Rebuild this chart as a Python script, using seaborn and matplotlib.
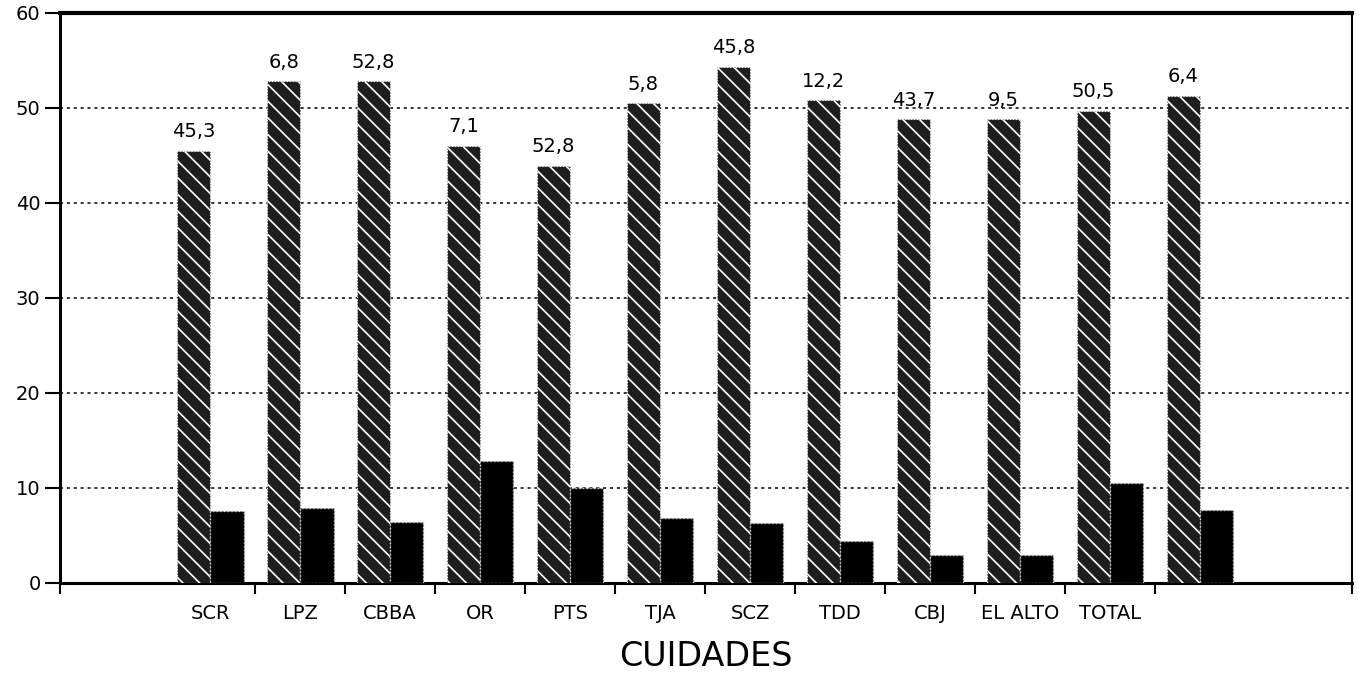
import numpy as np
import pandas as pd
import seaborn as sns
import matplotlib
matplotlib.use("Agg")
import matplotlib.pyplot as plt

# ---- data ----
categories = ["SCR", "LPZ", "CBBA", "OR", "PTS", "TJA", "SCZ", "TDD", "CBJ", "EL ALTO", "TOTAL", ""]
series_a = [45.5, 52.8, 52.8, 46.0, 43.9, 50.5, 54.3, 50.8, 48.8, 48.8, 49.7, 51.3]
series_b = [7.6, 7.9, 6.4, 12.8, 10.0, 6.8, 6.3, 4.4, 2.9, 2.9, 10.5, 7.7]
value_labels = ["45,3", "6,8", "52,8", "7,1", "52,8", "5,8", "45,8", "12,2", "43,7", "9,5", "50,5", "6,4"]
y_ticks = [0, 10, 20, 30, 40, 50, 60]
x_title = "CUIDADES"

df = pd.DataFrame({
    "ciudad": categories * 2,
    "serie": ["A"] * len(categories) + ["B"] * len(categories),
    "valor": series_a + series_b,
})

plt.rcParams["font.family"] = ["DejaVu Sans"]
plt.rcParams["hatch.linewidth"] = 1.2

fig = plt.figure(figsize=(13.59, 6.77), dpi=100)
ax = fig.add_axes([60 / 1359, 1 - 583 / 677, (1352 - 60) / 1359, (583 - 13) / 677])

sns.barplot(data=df, x="ciudad", y="valor", hue="serie", order=categories,
            hue_order=["A", "B"], palette=["#1e1e1e", "#000000"], saturation=1,
            width=0.74, legend=False, ax=ax, zorder=3)

for p in ax.containers[0]:
    p.set_hatch("\\\\")
    p.set_edgecolor("white")
    p.set_linewidth(0.8)
    p.set_linestyle(":")
for p in ax.containers[1]:
    p.set_edgecolor("#d0d0d0")
    p.set_linewidth(1.0)
    p.set_linestyle(":")

ax.bar_label(ax.containers[0], labels=value_labels, padding=7, fontsize=14)

ax.set_ylim(0, 60)
ax.set_xlim(-1.67, 12.69)
ax.set_yticks(y_ticks)
ax.yaxis.grid(True, linestyle=(0, (2, 2.5)), color="black", linewidth=1.1)
ax.set_axisbelow(True)

ax.set_xticks(list(np.arange(0.5, 11, 1.0)) + [-1.67, 12.69], minor=True)
ax.tick_params(axis="x", which="major", length=0, pad=15, labelsize=14)
ax.tick_params(axis="x", which="minor", length=8, width=1.5, direction="out")
ax.tick_params(axis="y", length=11, width=1.5, direction="out", pad=3, labelsize=14)

ax.set_xlabel(x_title, fontsize=24, labelpad=12)
ax.set_ylabel("")

for side in ["left", "bottom"]:
    ax.spines[side].set_linewidth(2.2)
ax.spines["top"].set_linewidth(3)
ax.spines["right"].set_linewidth(1.5)

fig.savefig("out.png", dpi=100, facecolor="white")
